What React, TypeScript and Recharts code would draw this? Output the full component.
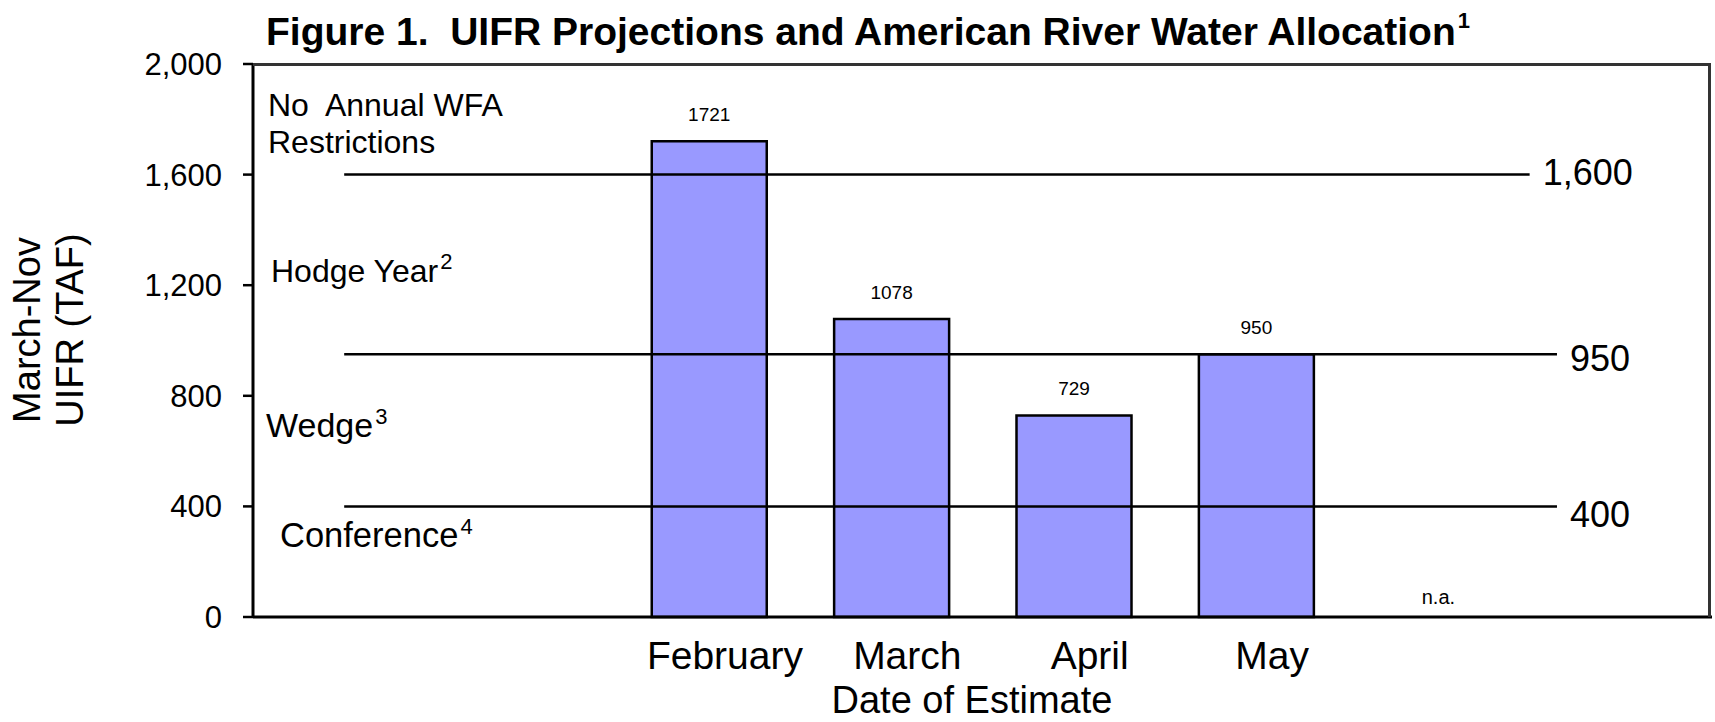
import { BarChart, Bar, XAxis, YAxis, ReferenceLine, ReferenceDot, LabelList } from 'recharts';

const FONT = "'Liberation Sans', Arial, sans-serif";

// eight category slots, only Feb-May carry a label
const slotIds = ['s1', 's2', 's3', 's4', 's5', 's6', 's7', 's8'];
const tickLabels = ['', '', 'February', 'March', 'April', 'May', '', ''];
const uifr = [null, null, 1721, 1078, 729, 950, null, null];
const notes = ['', '', '', '', '', '', 'n.a.', ''];

// allocation thresholds (TAF)
const allocLevels = [1600, 950, 400];
const allocLabels = ['1,600', '950', '400'];
// horizontal extent of each threshold line, in category slots (0..8)
const allocLineStart = 0.5;
const allocLineEnds = [7.0, 7.15, 7.15];
const allocLabelShift = [-2, 4, 8];

const yMax = 2000;
const yTicks = [0, 400, 800, 1200, 1600, 2000];

const data = slotIds.map((id, i) => ({ slot: id, value: uifr[i] }));

const W = 1715;
const H = 722;
const margin = { top: 64, right: 3, bottom: 0, left: 0 };
const Y_AXIS_W = 253;
const X_AXIS_H = 105;
const PLOT_W = W - margin.left - margin.right - Y_AXIS_W;
const PLOT_H = H - margin.top - margin.bottom - X_AXIS_H;

const MonthTick = (props: any) => {
  const { x, y, payload } = props;
  const label = tickLabels[slotIds.indexOf(payload.value)];
  if (!label) return null;
  return (
    <text x={x + 16} y={y} dy={52} textAnchor="middle" fontSize={39} fontFamily={FONT} fill="#000">
      {label}
    </text>
  );
};

// threshold line drawn across part of the plot width, with its value on the right
const allocShape = (endSlot: number, label: string, shift: number) => (props: any) => {
  const { x1, x2, y1 } = props;
  const slotW = (x2 - x1) / slotIds.length;
  const a = x1 + allocLineStart * slotW;
  const b = x1 + endSlot * slotW;
  return (
    <g>
      <line x1={a} x2={b} y1={y1} y2={y1} stroke="#000" strokeWidth={2.5} />
      <text x={b + 13} y={y1 + shift} dy="0.35em" fontSize={36} fontFamily={FONT} fill="#000">
        {label}
      </text>
    </g>
  );
};

const Annotation = ({ x, y, text, sup, size = 32 }: { x: number; y: number; text: string; sup?: string; size?: number }) => (
  <text x={x} y={y} fontSize={size} fontFamily={FONT} fill="#000" style={{ whiteSpace: 'pre' }}>
    {text}
    {sup && (
      <tspan fontSize={22} dx={2} dy={-13}>
        {sup}
      </tspan>
    )}
  </text>
);

export default function App() {
  return (
    <div style={{ position: 'absolute', left: 0, top: 0, width: W, height: H, background: '#fff' }}>
      <BarChart width={W} height={H} data={data} margin={margin}>
        <XAxis
          dataKey="slot"
          height={X_AXIS_H}
          tickLine={false}
          tickSize={0}
          tickMargin={0}
          interval={0}
          tick={<MonthTick />}
          axisLine={{ stroke: '#000', strokeWidth: 3 }}
        />
        <YAxis
          domain={[0, yMax]}
          ticks={yTicks}
          interval={0}
          width={Y_AXIS_W}
          tickSize={10}
          tickMargin={21}
          tickFormatter={(v: number) => v.toLocaleString('en-US')}
          tick={{ fontSize: 31, fill: '#000', fontFamily: FONT }}
          tickLine={{ stroke: '#000', strokeWidth: 2.5 }}
          axisLine={{ stroke: '#000', strokeWidth: 3 }}
        />
        <Bar dataKey="value" fill="#9999ff" stroke="#000" strokeWidth={2.5} barSize={115} isAnimationActive={false}>
          <LabelList dataKey="value" position="top" offset={20} fontSize={19} fill="#000" fontFamily={FONT} />
        </Bar>
        {allocLevels.map((lvl, i) => (
          <ReferenceLine key={lvl} y={lvl} shape={allocShape(allocLineEnds[i], allocLabels[i], allocLabelShift[i])} />
        ))}
        {notes.map((n, i) =>
          n ? (
            <ReferenceDot
              key={slotIds[i]}
              x={slotIds[i]}
              y={0}
              r={0}
              stroke="none"
              fill="none"
              label={{ value: n, position: 'top', offset: 13, fontSize: 20, fill: '#000', fontFamily: FONT }}
            />
          ) : null
        )}

        <text x={266} y={45} fontSize={39} fontWeight="bold" fontFamily={FONT} fill="#000" style={{ whiteSpace: 'pre' }}>
          {'Figure 1.  UIFR Projections and American River Water Allocation'}
          <tspan fontSize={22} dx={2} dy={-17}>1</tspan>
        </text>

        <g fontSize={38} fontFamily={FONT} fill="#000" textAnchor="middle">
          <text x={40} y={330} transform="rotate(-90, 40, 330)">March-Nov</text>
          <text x={83} y={330} transform="rotate(-90, 83, 330)">UIFR (TAF)</text>
        </g>

        <text x={972} y={713} textAnchor="middle" fontSize={38} fontFamily={FONT} fill="#000">
          Date of Estimate
        </text>

        <Annotation x={268} y={116} text="No  Annual WFA" />
        <Annotation x={268} y={153} text="Restrictions" />
        <Annotation x={271} y={282} text="Hodge Year" sup="2" />
        <Annotation x={266} y={437} text="Wedge" sup="3" size={34} />
        <Annotation x={280} y={547} text="Conference" sup="4" size={34.5} />
      </BarChart>
      {/* top and right edges of the plot box */}
      <div
        style={{
          position: 'absolute',
          left: margin.left + Y_AXIS_W,
          top: margin.top - 1,
          width: PLOT_W - 1,
          height: PLOT_H + 1,
          borderTop: '3px solid #333',
          borderRight: '3px solid #333',
          boxSizing: 'border-box',
          pointerEvents: 'none',
        }}
      />
    </div>
  );
}
